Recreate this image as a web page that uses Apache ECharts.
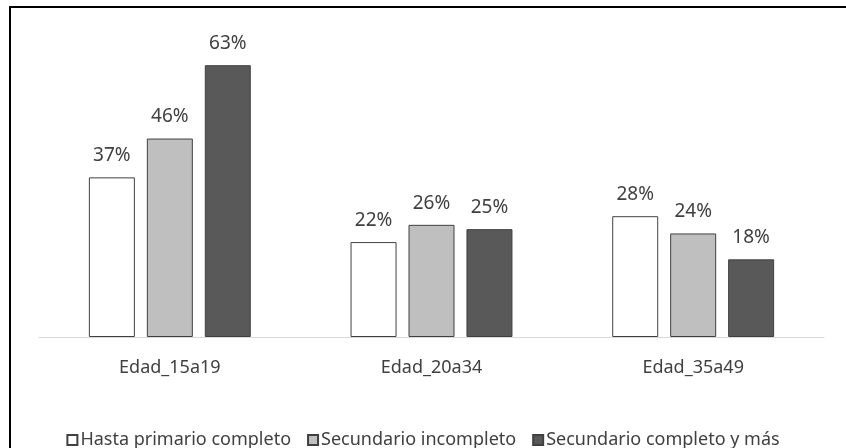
<!DOCTYPE html>
<html>
<head>
<meta charset="utf-8">
<script src="https://cdn.jsdelivr.net/npm/echarts@6/dist/echarts.min.js"></script>
<style>
  html, body { margin: 0; padding: 0; background: #fff; }
  #chart { width: 846px; height: 448px; }
</style>
</head>
<body>
<div id="chart"></div>
<script>
// 数据
const categories = ['Edad_15a19', 'Edad_20a34', 'Edad_35a49'];
const seriesNames = ['Hasta primario completo', 'Secundario incompleto', 'Secundario completo y más'];
const primarioValues = [37, 22, 28];
const secIncompletoValues = [46, 26, 24];
const secCompletoValues = [63, 25, 18];

const FONT = '"Noto Sans", sans-serif';
const TEXT_COLOR = '#404040';
const BORDER = '#404040';

const chart = echarts.init(document.getElementById('chart'));

function makeSeries(name, data, color) {
    return {
        name: name,
        type: 'bar',
        data: data,
        barWidth: 46,
        barGap: '26%',
        itemStyle: {
            color: color,
            borderColor: BORDER,
            borderWidth: 1
        },
        label: {
            show: true,
            position: 'top',
            distance: 12,
            formatter: '{c}%',
            color: TEXT_COLOR,
            fontFamily: FONT,
            fontSize: 19
        },
        emphasis: { disabled: true }
    };
}

const option = {
    animation: false,
    backgroundColor: '#fff',
    grid: {
        left: 39,
        right: 22,
        top: 35,
        bottom: 111
    },
    legend: {
        top: 426,
        left: 'center',
        icon: 'rect',
        itemWidth: 10,
        itemHeight: 10,
        itemGap: 16,
        textStyle: {
            color: TEXT_COLOR,
            fontFamily: FONT,
            fontSize: 18,
            padding: [0, 0, 0, -2]
        },
        data: seriesNames
    },
    xAxis: {
        type: 'category',
        data: categories,
        axisLine: { lineStyle: { color: '#d9d9d9', width: 1 } },
        axisTick: { show: false },
        axisLabel: {
            color: TEXT_COLOR,
            fontFamily: FONT,
            fontSize: 18,
            margin: 22
        }
    },
    yAxis: {
        type: 'value',
        min: 0,
        max: 70,
        show: false
    },
    graphic: [
        {
            type: 'polyline',
            shape: { points: [[10, 448], [10, 7], [846, 7]] },
            style: { stroke: '#000', lineWidth: 2, fill: null }
        }
    ],
    series: [
        makeSeries(seriesNames[0], primarioValues, '#ffffff'),
        makeSeries(seriesNames[1], secIncompletoValues, '#bfbfbf'),
        makeSeries(seriesNames[2], secCompletoValues, '#595959')
    ]
};

chart.setOption(option);
</script>
</body>
</html>
